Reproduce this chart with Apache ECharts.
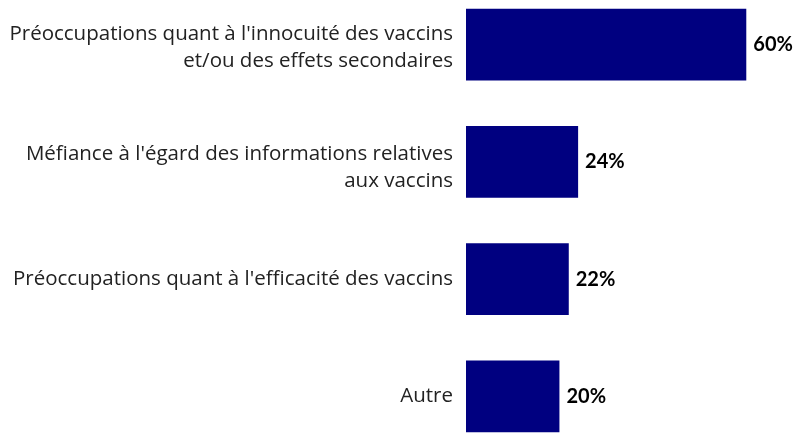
<!DOCTYPE html>
<html>
<head>
<meta charset="utf-8">
<script src="https://cdn.jsdelivr.net/npm/echarts@6/dist/echarts.min.js"></script>
<style>
html, body { margin: 0; padding: 0; background: #fff; overflow: hidden; }
/* le graphique déborde un peu en haut et en bas, comme dans l'original */
#chart { position: absolute; left: 0; top: -14px; width: 801px; height: 469px; }
</style>
</head>
<body>
<div id="chart"></div>
<script>
// catégories (de haut en bas)
const categories = [
    "Préoccupations quant à l'innocuité des vaccins\net/ou des effets secondaires",
    "Méfiance à l'égard des informations relatives\naux vaccins",
    "Préoccupations quant à l'efficacité des vaccins",
    "Autre"
];
// valeurs en %
const values = [60, 24, 22, 20];

// décalage vertical (px) des libellés sur deux lignes
const labelShift = [3, 6, 0, 0];

const chart = echarts.init(document.getElementById('chart'));

const option = {
    animation: false,
    grid: {
        left: 466,
        right: 8,
        top: 0,
        bottom: 0,
        containLabel: false
    },
    xAxis: {
        type: 'value',
        min: 0,
        max: 70,
        show: false
    },
    yAxis: {
        type: 'category',
        inverse: true,
        data: categories,
        axisLine: { show: false },
        axisTick: { show: false },
        axisLabel: {
            margin: 13,
            color: '#222',
            fontFamily: 'Open Sans',
            fontSize: 20.5,
            lineHeight: 27,
            align: 'right',
            formatter: (val, i) => {
                let lines = val.split('\n').map(l => '{t|' + l + '}').join('\n');
                return labelShift[i] ? '{s' + i + '|}\n' + lines : lines;
            },
            rich: {
                t: { fontFamily: 'Open Sans', fontSize: 20.5, lineHeight: 27, color: '#222' },
                s0: { height: 6, lineHeight: 6 },
                s1: { height: 12, lineHeight: 12 }
            }
        }
    },
    series: [{
        type: 'bar',
        data: values,
        barCategoryGap: '39%',
        itemStyle: { color: '#000080' },
        label: {
            show: true,
            position: 'right',
            distance: 7,
            formatter: '{c}%',
            color: '#000',
            fontFamily: 'Lato',
            fontWeight: 'bold',
            fontSize: 20
        }
    }]
};

chart.setOption(option);
</script>
</body>
</html>
